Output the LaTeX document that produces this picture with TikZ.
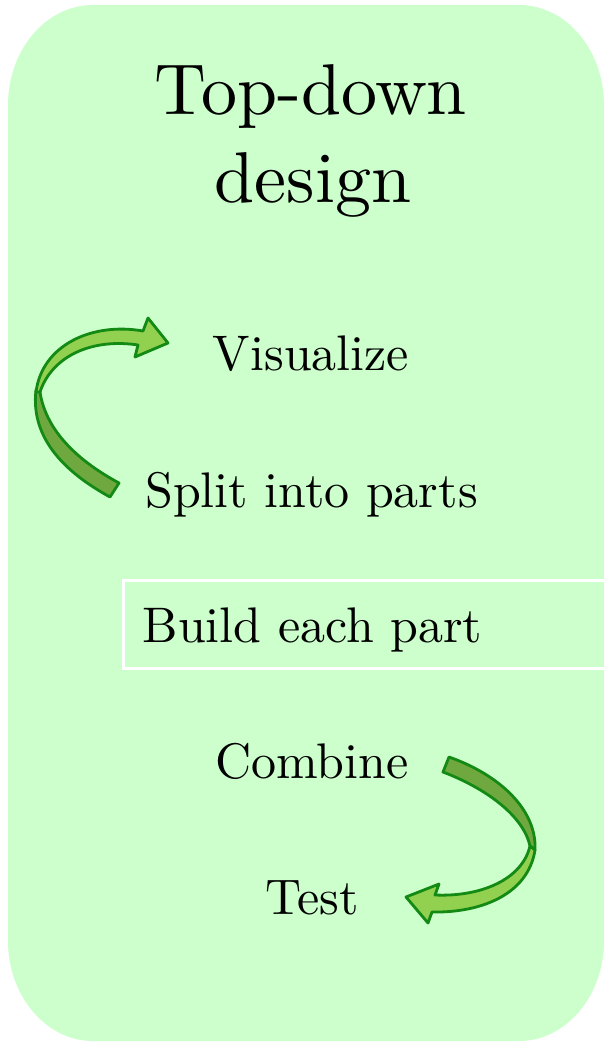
\documentclass[tikz,border=0pt]{standalone}
\usepackage{fontspec}
\setmainfont{lmroman10-regular}[Extension=.otf]
\definecolor{bggreen}{HTML}{CCFFCC}
\definecolor{arrlight}{HTML}{92D050}
\definecolor{arrdark}{HTML}{70A840}
\definecolor{arrline}{HTML}{138A13}
\tikzset{
  lbl/.style={font=\fontsize{50}{60}\selectfont, inner sep=0pt, anchor=base},
  ttl/.style={font=\fontsize{72}{87}\selectfont, inner sep=0pt, anchor=base},
  ribbon/.style={draw=arrline, line width=2.8pt, line join=round},
  buildbox/.style={draw=white, line width=3pt}
}
\begin{document}
\begin{tikzpicture}[x=1pt,y=-1pt]
\useasboundingbox (0,0) rectangle (603,1043);
% background panel
\fill[bggreen] (8,105) .. controls (8,49.8) and (46,5) .. (93,5)
  -- (519,5) .. controls (566,5) and (604,49.8) .. (604,105)
  -- (604,941) .. controls (604,996) and (566,1041) .. (519,1041)
  -- (93,1041) .. controls (46,1041) and (8,996) .. (8,941) -- cycle;
% title
\node[ttl] (t1) at (311,115) {Top-down};
\node[ttl] (t2) at (313,202) {design};
% steps
\node[lbl] (vis) at (311,370) {Visualize};
\node[lbl] (split) at (311.5,507) {Split into parts};
\draw[buildbox] (123,580) rectangle (610,668);
\node[lbl] (build) at (312.5,642) {Build each part};
\node[lbl] (comb) at (312,778) {Combine};
\node[lbl] (test) at (312,914) {Test};
% top-left curved arrow: back (dark) part
\path[ribbon, fill=arrdark] (36,390) .. controls (30,440) and (68,474) .. (110,497)
  -- (119,483) .. controls (80,462) and (46,432) .. (40,392) -- cycle;
% front (light) part with head
\path[ribbon, fill=arrlight] (36,392) .. controls (42,345) and (92,322) .. (143,331)
  -- (148,318) -- (168,343) -- (135,357) -- (138,345)
  .. controls (92,338) and (52,356) .. (40,392) -- cycle;
% bottom-right curved arrow: back (dark) part
\path[ribbon, fill=arrdark] (449,757) .. controls (500,775) and (537,810) .. (535,850)
  -- (530,846) .. controls (524,818) and (490,790) .. (443,772) -- cycle;
% front (light) part with head
\path[ribbon, fill=arrlight] (535,850) .. controls (528,895) and (480,913) .. (432,912)
  -- (428,923) -- (406,897) -- (439,884) -- (435,895)
  .. controls (480,897) and (522,880) .. (530,846) -- cycle;
\end{tikzpicture}
\end{document}
